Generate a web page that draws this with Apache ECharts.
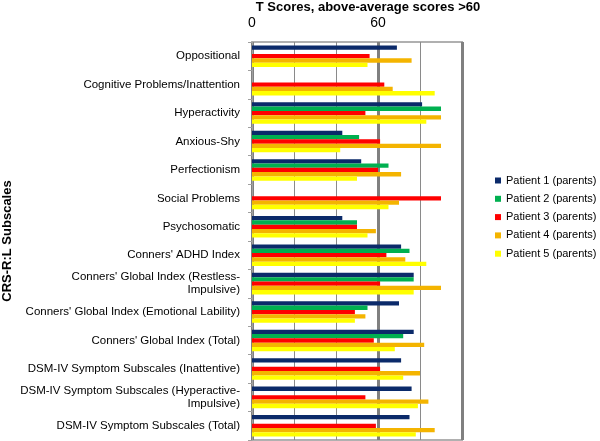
<!DOCTYPE html>
<html><head><meta charset="utf-8">
<script src="https://cdn.jsdelivr.net/npm/echarts@6/dist/echarts.min.js"></script>
<style>html,body{margin:0;padding:0;background:#fff}#c{width:600px;height:441px}</style>
</head><body><div id="c"></div>
<script>
const categories = ["Oppositional","Cognitive Problems/Inattention","Hyperactivity","Anxious-Shy","Perfectionism","Social Problems","Psychosomatic","Conners' ADHD Index","Conners' Global Index (Restless-\nImpulsive)","Conners' Global Index (Emotional Lability)","Conners' Global Index (Total)","DSM-IV Symptom Subscales (Inattentive)","DSM-IV Symptom Subscales (Hyperactive-\nImpulsive)","DSM-IV Symptom Subscales (Total)"];
const seriesNames = ["Patient 1 (parents)","Patient 2 (parents)","Patient 3 (parents)","Patient 4 (parents)","Patient 5 (parents)"];
const patient1 = [69,null,81,43,52,null,43,71,77,70,77,71,76,75];
const patient2 = [null,null,90,51,65,null,50,75,77,55,72,null,null,null];
const patient3 = [56,63,54,61,60,90,50,64,61,49,58,61,54,59];
const patient4 = [76,67,90,90,71,70,59,73,90,54,82,80,84,87];
const patient5 = [55,87,83,42,50,65,55,83,77,49,68,72,79,78];
const tickLabels = ["0","60"];
const colors = ["#0b2a6a","#00b050","#ff0000","#f4b400","#ffff00"];
const allData = [patient1,patient2,patient3,patient4,patient5];
const font = "Liberation Sans, Arial, Helvetica, sans-serif";
const chart = echarts.init(document.getElementById('c'));
const series = allData.map((d,i)=>({
  name: seriesNames[i], type:'bar', data:d, barGap:'0%', barCategoryGap:'24%',
  xAxisIndex:0, itemStyle:{color:colors[i]}, animation:false
}));
chart.setOption({
  animation:false,
  textStyle:{fontFamily:font},
  title:{text:'T Scores, above-average scores >60', left:368, textAlign:'center', top:1, padding:0,
    textStyle:{fontSize:13, fontWeight:'bold', color:'#000', fontFamily:font}},
  legend:{orient:'vertical', left:490, top:170, itemWidth:6, itemHeight:6, itemGap:7.3,
    icon:'rect', textStyle:{fontSize:11, color:'#000', fontFamily:font}, data:seriesNames},
  grid:{left:252, top:42, right:138, bottom:1, containLabel:false, show:true,
    borderColor:'#b0b0b0', borderWidth:2, backgroundColor:'transparent'},
  xAxis:[{type:'value', position:'top', min:0, max:100, interval:20,
    axisLine:{show:false}, axisTick:{show:false},
    splitLine:{show:true, lineStyle:{color:'#8a8a8a', width:1}},
    axisLabel:{fontSize:14, color:'#000', margin:12, fontFamily:font,
      formatter:v=> tickLabels.indexOf(String(v))>=0 ? String(v) : ''}},
    {type:'value', position:'top', min:0, max:100, interval:60,
    axisLine:{show:false}, axisTick:{show:false}, axisLabel:{show:false},
    splitLine:{show:true, lineStyle:{color:'#808080', width:3}}}],
  yAxis:{type:'category', inverse:true, data:categories,
    axisLine:{show:true, lineStyle:{color:'#a0a0a0', width:1}},
    axisTick:{show:true, length:4, lineStyle:{color:'#a0a0a0'}},
    axisLabel:{fontSize:11.5, color:'#000', margin:12, lineHeight:13, align:'right', fontFamily:font},
    name:'CRS-R:L Subscales', nameLocation:'middle', nameRotate:90, nameGap:238,
    nameTextStyle:{fontSize:13, fontWeight:'bold', color:'#000', fontFamily:font}},
  series: series
});
</script></body></html>
